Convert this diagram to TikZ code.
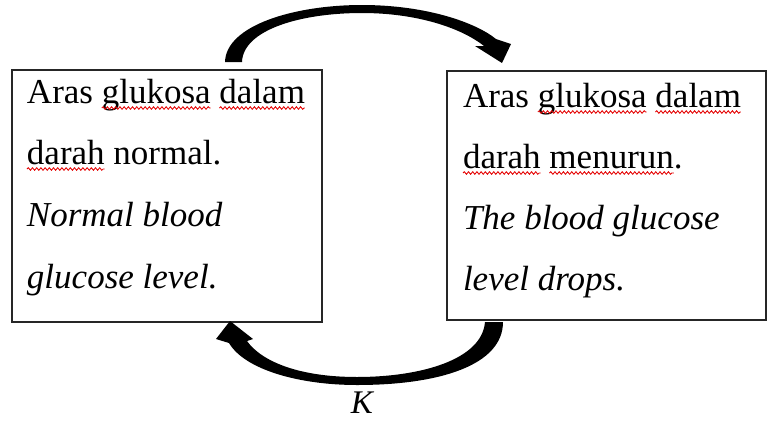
\documentclass[tikz,border=0pt]{standalone}
\usepackage{fontspec}
\setmainfont{Liberation Serif}
\usetikzlibrary{calc,decorations.pathmorphing}
\begin{document}
\begin{tikzpicture}[x=1pt,y=-1pt,
  box/.style={draw=black!85,line width=1.1pt,inner sep=0pt,fill=white},
  word/.style={anchor=base west,inner sep=0pt,outer sep=0pt,font=\fontsize{35}{42}\selectfont},
  iword/.style={word,font=\fontsize{35}{42}\selectfont\itshape},
  wavy/.style={draw=red!90!black,line width=0.85pt,decorate,decoration={snake,amplitude=1.3pt,segment length=4.2pt}},
  blockarrow/.style={fill=black,draw=none}]
\useasboundingbox (0,0) rectangle (768,421);
\fill[white] (0,0) rectangle (768,421);

% boxes
\node[box,minimum width=310pt,minimum height=252pt] (L) at (167,196) {};
\node[box,minimum width=319pt,minimum height=249pt] (R) at (606.5,195.5) {};

% left box text
\node[word] (la1) at (27,103) {Aras};
\node[word] (la2) at ([xshift=8.75pt]la1.base east) {glukosa};
\node[word] (la3) at ([xshift=8.75pt]la2.base east) {dalam};
\node[word] (lb1) at (27,164) {darah};
\node[word] (lb2) at ([xshift=8.75pt]lb1.base east) {normal.};
\node[iword] (lc) at (27,226) {Normal blood};
\node[iword] (ld) at (27,288) {glucose level.};

% right box text
\node[word] (ra1) at (463,107) {Aras};
\node[word] (ra2) at ([xshift=8.75pt]ra1.base east) {glukosa};
\node[word] (ra3) at ([xshift=8.75pt]ra2.base east) {dalam};
\node[word] (rb1) at (463,168) {darah};
\node[word] (rb2) at ([xshift=8.75pt]rb1.base east) {menurun};
\node[word] (rb3) at (rb2.base east) {.};
\node[iword] (rc) at (463,229) {The blood glucose};
\node[iword] (rd) at (463,290) {level drops.};

% spell-check wavy underlines
\foreach \w in {la2,la3,lb1,ra2,ra3,rb1,rb2}{
  \draw[wavy] ([yshift=-5pt]\w.base west) -- ([yshift=-5pt]\w.base east);
}

% top curved arrow (L -> R)
\coordinate (ts1) at (225,62);
\coordinate (ts2) at (242,62);
\coordinate (ttip) at (502,63);
\fill[blockarrow] (ts1) .. controls (226,25) and (295,5) .. (362,5)
  .. controls (425,5) and (475,22) .. (496,39) -- (511,44) -- (ttip)
  -- (475,46) -- (484,46)
  .. controls (460,27) and (415,13) .. (362,13)
  .. controls (300,13) and (243,30) .. (ts2) -- cycle;

% bottom curved arrow (R -> L)
\coordinate (bs1) at (485,322);
\coordinate (bs2) at (503,322);
\coordinate (btip) at (230,321);
\fill[blockarrow] (bs1) .. controls (482,360) and (420,377) .. (357,377)
  .. controls (300,377) and (262,362) .. (247,341)
  -- (253,339) -- (btip) -- (216,339) -- (229,343)
  .. controls (245,370) and (300,385) .. (357,385)
  .. controls (440,385) and (503,365) .. (bs2) -- cycle;

\node[inner sep=0pt,font=\fontsize{33}{36}\selectfont\itshape] (K) at (362,403) {K};
\end{tikzpicture}
\end{document}
